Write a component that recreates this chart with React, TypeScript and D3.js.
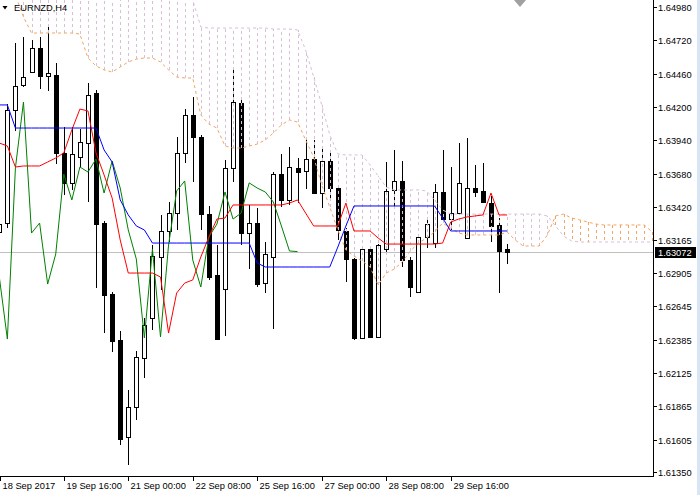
import React from "react";
import * as d3 from "d3";

// EURNZD H4 with Ichimoku
const symbol = "EURNZD,H4";
const lastPrice = 1.63072;

const open = [
  1.63225, 1.63295, 1.64177, 1.64372, 1.64473, 1.6466, 1.64442, 1.6445, 1.63842, 1.63608,
  1.6381, 1.63919, 1.64309, 1.63295, 1.62742, 1.62383, 1.61626, 1.6186, 1.62242, 1.62554,
  1.6303, 1.63233, 1.63373, 1.63842, 1.64138, 1.63966, 1.63365, 1.6289, 1.6278, 1.63725,
  1.64231, 1.63217, 1.63295, 1.62827, 1.6303, 1.63677, 1.63475, 1.63725, 1.63701, 1.63794,
  1.63529, 1.63779, 1.63568, 1.63233, 1.63014, 1.62398, 1.63092, 1.62406, 1.63092, 1.63553,
  1.63623, 1.63007, 1.62757, 1.63186, 1.63139, 1.63537, 1.63326, 1.63373, 1.63178, 1.63568,
  1.63545, 1.63451, 1.6328, 1.63092,
];
const high = [
  1.63319, 1.64223, 1.64699, 1.64746, 1.64723, 1.64746, 1.6484, 1.64544, 1.64044, 1.64044,
  1.64029, 1.64387, 1.64333, 1.63311, 1.62757, 1.62453, 1.61993, 1.62297, 1.62554, 1.63124,
  1.63358, 1.63459, 1.63966, 1.64184, 1.64278, 1.63982, 1.63428, 1.63124, 1.63787, 1.64489,
  1.64278, 1.63436, 1.63412, 1.63147, 1.63693, 1.63834, 1.63888, 1.63802, 1.63966, 1.63943,
  1.63872, 1.63865, 1.63584, 1.63256, 1.63022, 1.63108, 1.631, 1.63131, 1.63771, 1.63865,
  1.63779, 1.6303, 1.63194, 1.63342, 1.63599, 1.63865, 1.63732, 1.63919, 1.63958, 1.63748,
  1.63763, 1.63506, 1.63334, 1.63131,
];
const low = [
  1.63194, 1.63256, 1.64013, 1.64356, 1.64465, 1.6434, 1.64325, 1.63756, 1.63514, 1.63553,
  1.63732, 1.63459, 1.62788, 1.62437, 1.62289, 1.61564, 1.61408, 1.61759, 1.62086, 1.62461,
  1.62773, 1.63147, 1.63241, 1.63763, 1.63615, 1.63241, 1.62851, 1.62383, 1.62414, 1.63615,
  1.63124, 1.62936, 1.62796, 1.62749, 1.62468, 1.6342, 1.63436, 1.63451, 1.6356, 1.63521,
  1.63412, 1.63475, 1.63163, 1.62835, 1.62383, 1.6239, 1.62398, 1.62398, 1.63069, 1.6342,
  1.62952, 1.62718, 1.62749, 1.631, 1.631, 1.63319, 1.63241, 1.63365, 1.63171, 1.63498,
  1.63451, 1.63147, 1.62749, 1.62975,
];
const close = [
  1.63287, 1.64177, 1.64364, 1.64434, 1.6466, 1.64442, 1.64465, 1.63842, 1.63608, 1.63834,
  1.63927, 1.64294, 1.63287, 1.62734, 1.62375, 1.6161, 1.6186, 1.6225, 1.625, 1.63038,
  1.63233, 1.63373, 1.63842, 1.64138, 1.63966, 1.63365, 1.62874, 1.6239, 1.63725, 1.64239,
  1.63217, 1.63295, 1.62819, 1.63053, 1.63677, 1.63475, 1.63732, 1.63693, 1.63794, 1.63529,
  1.63779, 1.63568, 1.63241, 1.63014, 1.62398, 1.63092, 1.62406, 1.63124, 1.63545, 1.63623,
  1.63007, 1.62796, 1.63186, 1.63287, 1.63537, 1.63326, 1.63373, 1.63608, 1.63568, 1.63537,
  1.63459, 1.63272, 1.63077, 1.63072,
];

const tenkan = [
  1.63919, 1.63896, 1.63732, 1.6374, 1.6374, 1.6374, 1.63771, 1.63802, 1.63842, 1.64021,
  1.64184, 1.64169, 1.63842, 1.6367, 1.6349, 1.63163, 1.62905, 1.62905, 1.62905, 1.62905,
  1.62874, 1.62437, 1.62749, 1.62827, 1.62851, 1.6303, 1.63186, 1.63326, 1.63334, 1.63436,
  1.63436, 1.63436, 1.63436, 1.63436, 1.63436, 1.63436, 1.63451, 1.63475, 1.63373, 1.63272,
  1.63272, 1.63272, 1.63272, 1.63451, 1.63233, 1.63233, 1.63233, 1.63178, 1.63131, 1.63131,
  1.63131, 1.63131, 1.63131, 1.63131, 1.63131, 1.63139, 1.63303, 1.63326, 1.63342, 1.6335,
  1.63358, 1.63529, 1.63358, 1.63358,
];
const kijun = [
  1.64216, 1.64216, 1.64036, 1.64036, 1.64036, 1.64036, 1.64036, 1.64036, 1.64036, 1.64036,
  1.64036, 1.64036, 1.64036, 1.63865, 1.63771, 1.63475, 1.63358, 1.63272, 1.63241, 1.63139,
  1.63139, 1.63139, 1.63139, 1.63139, 1.63139, 1.63139, 1.63139, 1.63139, 1.63139, 1.63139,
  1.63139, 1.63139, 1.62983, 1.62952, 1.62952, 1.62952, 1.62952, 1.62952, 1.62952, 1.62952,
  1.62952, 1.62952, 1.63108, 1.63272, 1.63428, 1.63428, 1.63428, 1.63428, 1.63428, 1.63428,
  1.63428, 1.63428, 1.63428, 1.63428, 1.63428, 1.63334, 1.63233, 1.63233, 1.63233, 1.63233,
  1.63233, 1.63233, 1.63233, 1.63233,
];
// senkou spans run 26 bars past the last candle
const senkouA = [
  1.65191, 1.65128, 1.65074, 1.64902, 1.64777, 1.64777, 1.64777, 1.64777, 1.64777, 1.64777,
  1.64769, 1.64582, 1.6452, 1.64489, 1.64473, 1.64512, 1.64551, 1.64574, 1.64582, 1.64582,
  1.64551, 1.64489, 1.64434, 1.64426, 1.64426, 1.64138, 1.64067, 1.64036, 1.63896, 1.6388,
  1.6388, 1.63896, 1.63911, 1.63943, 1.63997, 1.6406, 1.64099, 1.64083, 1.63943, 1.6381,
  1.63592, 1.6342, 1.63241, 1.63085, 1.63038, 1.62999, 1.62952, 1.62812, 1.62905, 1.62936,
  1.62991, 1.63077, 1.63139, 1.63178, 1.63225, 1.63295, 1.63256, 1.63217, 1.63202, 1.63202,
  1.63202, 1.63202, 1.63202, 1.63225, 1.63163, 1.63116, 1.63116, 1.63116, 1.63202, 1.6335,
  1.63365, 1.63334, 1.63319, 1.63303, 1.63287, 1.6328, 1.6328, 1.6328, 1.6328, 1.6328,
  1.6328, 1.63225,
];
const senkouB = [
  1.65082, 1.65082, 1.65082, 1.65082, 1.65082, 1.65082, 1.65082, 1.65082, 1.65082, 1.65082,
  1.65082, 1.65082, 1.65082, 1.65082, 1.65082, 1.65082, 1.65082, 1.65082, 1.65082, 1.65082,
  1.65082, 1.65082, 1.65082, 1.65082, 1.65035, 1.64824, 1.64816, 1.64816, 1.64816, 1.64816,
  1.64816, 1.64816, 1.64816, 1.64816, 1.64808, 1.64808, 1.64808, 1.64801, 1.64645, 1.64434,
  1.64216, 1.63982, 1.63834, 1.63826, 1.63826, 1.63826, 1.63748, 1.63662, 1.63576, 1.63553,
  1.63553, 1.63553, 1.63553, 1.63545, 1.63475, 1.63397, 1.63365, 1.63365, 1.63365, 1.63365,
  1.63365, 1.63365, 1.63365, 1.63365, 1.63365, 1.63365, 1.63365, 1.63365, 1.6335, 1.63272,
  1.63194, 1.63155, 1.63147, 1.63147, 1.63147, 1.63147, 1.63147, 1.63147, 1.63147, 1.63147,
  1.63147, 1.63147,
];

const priceTicks = [
  1.6498, 1.6472, 1.6446, 1.642, 1.6394, 1.6368, 1.6342, 1.63165, 1.62905, 1.62645,
  1.62385, 1.62125, 1.61865, 1.61605, 1.6135,
];
const timeLabels = [
  "18 Sep 2017", "19 Sep 16:00", "21 Sep 00:00", "22 Sep 08:00",
  "25 Sep 16:00", "27 Sep 00:00", "28 Sep 08:00", "29 Sep 16:00",
];
const timeLabelBars = [0, 8, 16, 24, 32, 40, 48, 56];

const FONT = "'Liberation Sans', Arial, sans-serif";

export default function App() {
  const W = 700;
  const H = 495;
  const right = 653;
  const bottom = 476;

  const x = d3.scaleLinear().domain([0, 81]).range([-0.7, 652.2]);
  const y = d3.scaleLinear().domain([1.6135, 1.6498]).range([472.4, 7]);
  const px = (i: number) => Math.round(x(i)) + 0.5;

  const line = d3
    .line<number>()
    .x((_, i) => x(i))
    .y((d) => y(d));

  const chikou = close.slice(26);

  return (
    <svg
      width={W}
      height={H}
      style={{ position: "absolute", left: 0, top: 0, background: "#fff" }}
    >
      <defs>
        <clipPath id="plot">
          <rect x={0} y={0} width={right} height={bottom} />
        </clipPath>
      </defs>
      <rect x={0} y={0} width={W} height={H} fill="#fff" />

      <g clipPath="url(#plot)">
        {/* price line */}
        <line x1={0} x2={right} y1={Math.round(y(lastPrice)) + 0.5} y2={Math.round(y(lastPrice)) + 0.5} stroke="#c0c0c0" />

        {/* candles */}
        {open.map((o, i) => {
          const cx = px(i);
          const c = close[i];
          const top = Math.round(y(Math.max(o, c))) + 0.5;
          const bot = Math.round(y(Math.min(o, c))) + 0.5;
          const bull = c >= o;
          return (
            <g key={i}>
              <line x1={cx} x2={cx} y1={Math.round(y(high[i]))} y2={Math.round(y(low[i]))} stroke="#000" />
              <rect
                x={cx - 2}
                y={top}
                width={4}
                height={Math.max(bot - top, 1)}
                fill={bull ? "#fff" : "#000"}
                stroke="#000"
              />
            </g>
          );
        })}

        {/* kumo hatch */}
        {senkouA.map((a, i) => {
          const b = senkouB[i];
          return (
            <line
              key={"h" + i}
              x1={px(i)}
              x2={px(i)}
              y1={y(a)}
              y2={y(b)}
              stroke={a >= b ? "#f4a460" : "#d8bfd8"}
              strokeDasharray="3,3"
            />
          );
        })}
        <path d={line(senkouA) || ""} fill="none" stroke="#f4a460" strokeDasharray="3,3" />
        <path d={line(senkouB) || ""} fill="none" stroke="#d8bfd8" strokeDasharray="3,3" />

        <path d={line(chikou) || ""} fill="none" stroke="#008000" />
        <path d={line(tenkan) || ""} fill="none" stroke="#ff0000" />
        <path d={line(kijun) || ""} fill="none" stroke="#0000ff" />
      </g>

      {/* chart shift marker */}
      <polygon points="514,0 526,0 520,7" fill="#a0a0a0" />

      {/* frame */}
      <line x1={right + 0.5} x2={right + 0.5} y1={0} y2={bottom + 1} stroke="#000" />
      <line x1={0} x2={right + 1} y1={bottom + 0.5} y2={bottom + 0.5} stroke="#000" />

      {/* price axis */}
      {priceTicks.map((t) => {
        const ty = Math.round(y(t)) + 0.5;
        return (
          <g key={t}>
            <line x1={right} x2={right + 4} y1={ty} y2={ty} stroke="#000" />
            <text x={658} y={ty + 3.4} fontFamily={FONT} fontSize={9.3} fill="#000">
              {t.toFixed(5)}
            </text>
          </g>
        );
      })}
      <rect x={655} y={Math.round(y(lastPrice)) - 5} width={41} height={11} fill="#000" />
      <text x={658} y={Math.round(y(lastPrice)) + 3.9} fontFamily={FONT} fontSize={9.3} fill="#fff">
        {lastPrice.toFixed(5)}
      </text>

      {/* time axis */}
      {timeLabelBars.map((b, i) => {
        const tx = Math.max(px(b), 0.5);
        return (
          <g key={b}>
            <line x1={tx} x2={tx} y1={bottom} y2={bottom + 5} stroke="#000" />
            <text x={tx + 2} y={488.5} fontFamily={FONT} fontSize={9.3} fill="#000">
              {timeLabels[i]}
            </text>
          </g>
        );
      })}

      {/* symbol label */}
      <polygon points="2.5,6 7.5,6 5,9.5" fill="#000" />
      <text x={14} y={10.7} fontFamily={FONT} fontSize={9.3} fill="#000">
        {symbol}
      </text>

      <rect x={697} y={0} width={3} height={H} fill="#d9e5f4" />
    </svg>
  );
}
